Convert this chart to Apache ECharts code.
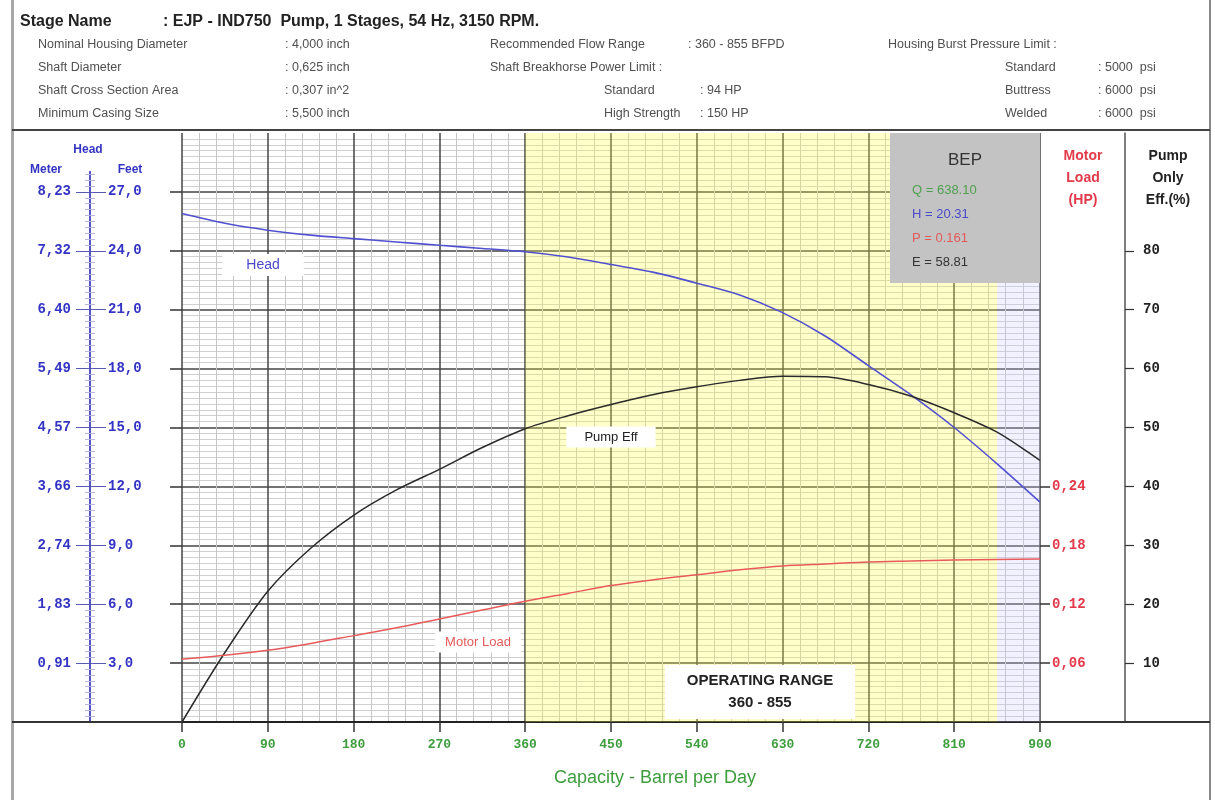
<!DOCTYPE html>
<html><head><meta charset="utf-8">
<script src="https://cdn.jsdelivr.net/npm/echarts@6/dist/echarts.min.js"></script>
<style>html,body{margin:0;padding:0;background:#fff}#c{width:1215px;height:800px}</style>
</head><body><div id="c"></div>
<script>
// ---- data ----
const capacity = [0,45,90,135,180,225,270,315,360,405,450,495,540,585,630,675,720,765,810,855,900];
const headFt   = [25.9,25.4,25.05,24.8,24.62,24.45,24.28,24.12,23.95,23.68,23.3,22.9,22.35,21.75,20.85,19.65,18.15,16.65,15.0,13.15,11.2];
const pumpEff  = [0,11.8,22.2,29.5,35.1,39.4,42.9,46.6,49.8,52.0,53.9,55.6,56.9,58.0,58.7,58.6,57.3,55.3,52.5,49.2,44.4];
const motorLoad= [0.064,0.068,0.073,0.080,0.088,0.096,0.105,0.114,0.123,0.131,0.139,0.145,0.150,0.155,0.159,0.161,0.163,0.164,0.165,0.1655,0.166];
const headTicks = [3,6,9,12,15,18,21,24,27];
const effTicks  = [10,20,30,40,50,60,70,80];
const loadTicks = [0.06,0.12,0.18,0.24];
const operatingRange = [360,855];
const bepLabels = ['Q = 638.10','H = 20.31','P = 0.161','E = 58.81'];
const headerRows = [
  ['Nominal Housing Diameter',': 4,000 inch','Recommended Flow Range',': 360 - 855 BFPD','Housing Burst Pressure Limit :','',''],
  ['Shaft Diameter',': 0,625 inch','Shaft Breakhorse Power Limit :','','', 'Standard',': 5000  psi'],
  ['Shaft Cross Section Area',': 0,307 in^2','Standard',': 94 HP','', 'Buttress',': 6000  psi'],
  ['Minimum Casing Size',': 5,500 inch','High Strength',': 150 HP','', 'Welded',': 6000  psi']
];

const pair = arr => capacity.map((q,i)=>[q,arr[i]]);
const MONO = 'Liberation Mono, DejaVu Sans Mono, monospace';
const SANS = 'Liberation Sans, Arial, sans-serif';
const BLUE = '#3434c4', RED = '#e23a4a', GREEN = '#3d9d3d';

const chart = echarts.init(document.getElementById('c'), null, {renderer:'canvas'});

const g = [];
g.push({type:'rect', shape:{x:11,y:0,width:3,height:800}, style:{fill:'#a8a8a8'}, z:100});
g.push({type:'rect', shape:{x:1209,y:0,width:2,height:800}, style:{fill:'#888'}, z:100});
g.push({type:'rect', shape:{x:12,y:129,width:1198,height:2}, style:{fill:'#444'}, z:100});
g.push({type:'rect', shape:{x:12,y:721,width:170,height:2}, style:{fill:'#333'}, z:100});
g.push({type:'rect', shape:{x:1040,y:721,width:170,height:2}, style:{fill:'#333'}, z:100});
g.push({type:'rect', shape:{x:83,y:131,width:14,height:40}, style:{fill:'#fff'}, z:100});
g.push({type:'text', x:20, y:22, style:{text:'Stage Name', font:'bold 16px '+SANS, fill:'#222', verticalAlign:'middle'}, z:101});
g.push({type:'text', x:163, y:22, style:{text:': EJP - IND750  Pump, 1 Stages, 54 Hz, 3150 RPM.', font:'bold 16px '+SANS, fill:'#222', verticalAlign:'middle'}, z:101});
const colX = [38,285,490,688,888,1005,1098];
headerRows.forEach((row,ri)=>{
  row.forEach((t,ci)=>{
    if(!t) return;
    let x = colX[ci];
    if(ri>=2 && ci===2) x = 604;
    if(ri>=2 && ci===3) x = 700;
    g.push({type:'text', x:x, y:45+ri*23, style:{text:t, font:'12.5px '+SANS, fill:'#505050', verticalAlign:'middle'}, z:101});
  });
});
g.push({type:'text', x:88, y:150, style:{text:'Head', font:'bold 12px '+SANS, fill:BLUE, align:'center', verticalAlign:'middle'}, z:101});
g.push({type:'text', x:46, y:170, style:{text:'Meter', font:'bold 12px '+SANS, fill:BLUE, align:'center', verticalAlign:'middle'}, z:101});
g.push({type:'text', x:130, y:170, style:{text:'Feet', font:'bold 12px '+SANS, fill:BLUE, align:'center', verticalAlign:'middle'}, z:101});
g.push({type:'text', x:1083, y:178, style:{text:'Motor\nLoad\n(HP)', font:'bold 14px '+SANS, fill:RED, align:'center', verticalAlign:'middle', lineHeight:22}, z:101});
g.push({type:'text', x:1168, y:178, style:{text:'Pump\nOnly\nEff.(%)', font:'bold 14px '+SANS, fill:'#222', align:'center', verticalAlign:'middle', lineHeight:22}, z:101});
g.push({type:'rect', shape:{x:890,y:133,width:150,height:150}, style:{fill:'#c3c3c3'}, z:90});
g.push({type:'text', x:965, y:160, style:{text:'BEP', font:'17px '+SANS, fill:'#333', align:'center', verticalAlign:'middle'}, z:91});
const bepColors = ['#4fa04f','#4a4ac8','#e25a5a','#333'];
bepLabels.forEach((t,i)=>{
  g.push({type:'text', x:912, y:190+i*24, style:{text:t, font:'13px '+SANS, fill:bepColors[i], verticalAlign:'middle'}, z:91});
});
g.push({type:'text', x:263, y:265, style:{text:'Head', font:'14px '+SANS, fill:'#4a4ac8', align:'center', verticalAlign:'middle', backgroundColor:'#fff', padding:[4,24]}, z:80});
g.push({type:'text', x:611, y:437, style:{text:'Pump Eff', font:'13px '+SANS, fill:'#222', align:'center', verticalAlign:'middle', backgroundColor:'#fff', padding:[4,18]}, z:80});
g.push({type:'text', x:478, y:642, style:{text:'Motor Load', font:'13px '+SANS, fill:'#e25a5a', align:'center', verticalAlign:'middle', backgroundColor:'#fff', padding:[4,10]}, z:80});
g.push({type:'text', x:760, y:692, style:{text:'OPERATING RANGE\n' + operatingRange[0] + ' - ' + operatingRange[1], font:'bold 15px '+SANS, fill:'#222', align:'center', verticalAlign:'middle', lineHeight:22, backgroundColor:'#fff', padding:[5,22,5,22]}, z:80});
g.push({type:'text', x:655, y:778, style:{text:'Capacity - Barrel per Day', font:'18px '+SANS, fill:GREEN, align:'center', verticalAlign:'middle'}, z:101});

const monoLabel = (color) => ({color:color, fontFamily:MONO, fontWeight:'bold', fontSize:14});

const option = {
  animation:false,
  backgroundColor:'#fff',
  grid:{left:182, right:175, top:133, bottom:78, containLabel:false},
  xAxis:{
    type:'value', min:0, max:900, interval:90,
    axisLine:{lineStyle:{color:'#222', width:2}},
    axisTick:{length:10, lineStyle:{color:'#333', width:1.5}},
    axisLabel:{color:GREEN, fontFamily:MONO, fontWeight:'bold', fontSize:13, margin:16},
    splitLine:{lineStyle:{color:'#444', width:1.5}},
    minorTick:{show:false, splitNumber:5},
    minorSplitLine:{show:true, lineStyle:{color:'#c6c6c6', width:1}}
  },
  yAxis:[
    {
      type:'value', min:0, max:30, interval:3, position:'left',
      axisLine:{show:false},
      axisTick:{show:true, length:12, lineStyle:{color:'#333', width:1.5}, customValues:headTicks},
      axisLabel:{show:false},
      splitLine:{lineStyle:{color:'#444', width:1.5}},
      minorTick:{show:false, splitNumber:10},
      minorSplitLine:{show:true, lineStyle:{color:'#d0d0d0', width:1}}
    },
    {
      type:'value', min:0, max:30, interval:3, position:'left', offset:92,
      axisLine:{show:true, lineStyle:{color:'#4848c0', width:1.5}},
      axisTick:{length:14, lineStyle:{color:'#5a5ab4', width:1}, customValues:headTicks},
      minorTick:{show:true, splitNumber:10, length:5, lineStyle:{color:'#b8b8dc'}},
      axisLabel:Object.assign(monoLabel(BLUE),{customValues:headTicks, margin:19, formatter:v=>(v*0.3048).toFixed(2).replace('.',',')}),
      splitLine:{show:false}
    },
    {
      type:'value', min:0, max:30, interval:3, position:'left', offset:92,
      axisLine:{show:true, lineStyle:{color:'#4848c0', width:1.5}},
      axisTick:{inside:true, length:16, lineStyle:{color:'#5a5ab4', width:1}, customValues:headTicks},
      minorTick:{show:true, splitNumber:10, length:5, lineStyle:{color:'#b8b8dc'}},
      axisLabel:Object.assign(monoLabel(BLUE),{inside:true, customValues:headTicks, margin:18, formatter:v=>v.toFixed(1).replace('.',',')}),
      splitLine:{show:false}
    },
    {
      type:'value', min:0, max:0.6, interval:0.06, position:'right', offset:0,
      axisLine:{show:false},
      axisTick:{length:10, lineStyle:{color:'#333', width:1.5}, customValues:loadTicks},
      axisLabel:Object.assign(monoLabel(RED),{customValues:loadTicks, margin:12, formatter:v=>v.toFixed(2).replace('.',',')}),
      splitLine:{show:false}
    },
    {
      type:'value', min:0, max:100, interval:10, position:'right', offset:85,
      axisLine:{show:true, lineStyle:{color:'#555', width:1.5}},
      axisTick:{length:9, lineStyle:{color:'#333', width:1.2}, customValues:effTicks},
      axisLabel:Object.assign(monoLabel('#222'),{customValues:effTicks, margin:18}),
      splitLine:{show:false}
    }
  ],
  series:[
    {type:'line', name:'Head', yAxisIndex:0, data:pair(headFt), smooth:0.3, showSymbol:false, symbol:'none',
     lineStyle:{color:'#5050d0', width:1.6}, z:3,
     markArea:{silent:true, z:1, data:[
       [{xAxis:operatingRange[0], itemStyle:{color:'rgba(255,255,60,0.28)'}},{xAxis:operatingRange[1]}],
       [{xAxis:operatingRange[1], itemStyle:{color:'rgba(200,200,255,0.25)'}},{xAxis:900}]
     ]}},
    {type:'line', name:'Pump Eff', yAxisIndex:4, data:pair(pumpEff), smooth:0.3, showSymbol:false, symbol:'none',
     lineStyle:{color:'#2a2a2a', width:1.5}, z:3},
    {type:'line', name:'Motor Load', yAxisIndex:3, data:pair(motorLoad), smooth:0.3, showSymbol:false, symbol:'none',
     lineStyle:{color:'#e85a5a', width:1.5}, z:3}
  ],
  graphic:g
};
chart.setOption(option);
</script></body></html>
